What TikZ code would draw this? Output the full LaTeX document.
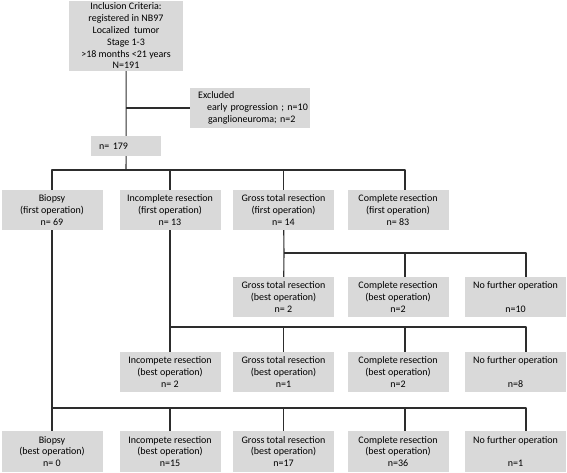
\documentclass[tikz,border=0pt]{standalone}
\usepackage{fontspec}
\setmainfont{Carlito}
\usepackage{xcolor}
\usepackage{tikz}
\usetikzlibrary{positioning,calc}
\definecolor{boxgray}{RGB}{217,217,217}
\definecolor{linegray}{RGB}{45,45,45}

\begin{document}
\begin{tikzpicture}[x=1pt,y=-1pt,line join=round]
% -------------------------------------------------
% Styles
% -------------------------------------------------
\tikzset{
  box/.style={fill=boxgray, draw=none, align=center, inner sep=0pt,
    minimum width=101pt, minimum height=40pt,
    font=\fontsize{10}{11.8}\selectfont},
  link/.style={draw=linegray, line width=1.1pt},
}
\useasboundingbox (0,0) rectangle (567,473);
% -------------------------------------------------
% Inclusion
% -------------------------------------------------
\node[box, minimum width=114pt, minimum height=70pt] (incl) at (126,36)
  {Inclusion Criteria:\\registered in NB97\\Localized\ \ tumor\\Stage 1-3\\>18 months <21 years\\N=191};
\node[box, anchor=west, minimum width=0pt, text width=104pt, inner xsep=8pt, align=left] (exc) at (190,108)
  {Excluded\\\hspace*{9pt}\mbox{early progression ; n=10}\\\hspace*{10pt}\mbox{ganglioneuroma; n=2}};
\node[box, anchor=west, minimum width=0pt, minimum height=20pt, text width=54pt, inner xsep=8pt, align=left] (n179) at (91,146)
  {n= 179};
% -------------------------------------------------
% First operation
% -------------------------------------------------
\node[box] (bio1) at (52,210) {Biopsy\\(first operation)\\n= 69};
\node[box] (inc1) at (170,210) {Incomplete resection\\(first operation)\\n= 13};
\node[box] (gro1) at (283.5,210) {Gross total resection\\(first operation)\\n= 14};
\node[box] (com1) at (398,210) {Complete resection\\(first operation)\\n= 83};
% -------------------------------------------------
% Best operation after gross total
% -------------------------------------------------
\node[box] (gro2) at (283.5,297) {Gross total resection\\(best operation)\\n= 2};
\node[box] (com2) at (398,297) {Complete resection\\(best operation)\\n=2};
\node[box] (nof2) at (515.5,297) {No further operation\\\mbox{}\\n=10};
% -------------------------------------------------
% Best operation after incomplete
% -------------------------------------------------
\node[box] (inc3) at (170,372) {Incompete resection\\(best operation)\\n= 2};
\node[box] (gro3) at (283.5,372) {Gross total resection\\(best operation)\\n=1};
\node[box] (com3) at (398,372) {Complete resection\\(best operation)\\n=2};
\node[box] (nof3) at (515.5,372) {No further operation\\\mbox{}\\n=8};
% -------------------------------------------------
% Best operation after biopsy
% -------------------------------------------------
\node[box, minimum height=41pt] (bio4) at (52,451.5) {Biopsy\\(best operation)\\n= 0};
\node[box, minimum height=41pt] (inc4) at (170,451.5) {Incompete resection\\(best operation)\\n=15};
\node[box, minimum height=41pt] (gro4) at (283.5,451.5) {Gross total resection\\(best operation)\\n=17};
\node[box, minimum height=41pt] (com4) at (398,451.5) {Complete resection\\(best operation)\\n=36};
\node[box, minimum height=41pt] (nof4) at (515.5,451.5) {No further operation\\\mbox{}\\n=1};
% -------------------------------------------------
% Connectors
% -------------------------------------------------
\coordinate (colD) at (405,0);
\coordinate (colE) at (526,0);
\coordinate (bus1) at (126,170);
\coordinate (bus2) at (284,253);
\coordinate (bus3) at (170,327);
\coordinate (bus4) at (52,408);

\draw[link] (incl) -- (n179);
\draw[link] (incl.south |- exc.west) -- (exc.west);

\draw[link] (n179) -- (bus1);
\draw[link] (bio1.north) |- (bus1) -| (colD |- com1.north);
\draw[link] (inc1.north) -- (inc1.north |- bus1);
\draw[link] (gro1.north) -- (gro1.north |- bus1);

\draw[link] (gro1) -- (bus2) -- (gro2);
\draw[link] (bus2) -| (colD |- com2.north);
\draw[link] (bus2) -| (colE |- nof2.north);

\draw[link] (inc1) -- (bus3) -- (inc3);
\draw[link] (bus3) -| (gro3.north);
\draw[link] (bus3) -| (colD |- com3.north);
\draw[link] (bus3) -| (colE |- nof3.north);

\draw[link] (bio1) -- (bus4) -- (bio4);
\foreach \n in {inc4,gro4}{
  \draw[link] (bus4) -| (\n.north);
}
\draw[link] (bus4) -| (colD |- com4.north);
\draw[link] (bus4) -| (colE |- nof4.north);

\end{tikzpicture}
\end{document}
